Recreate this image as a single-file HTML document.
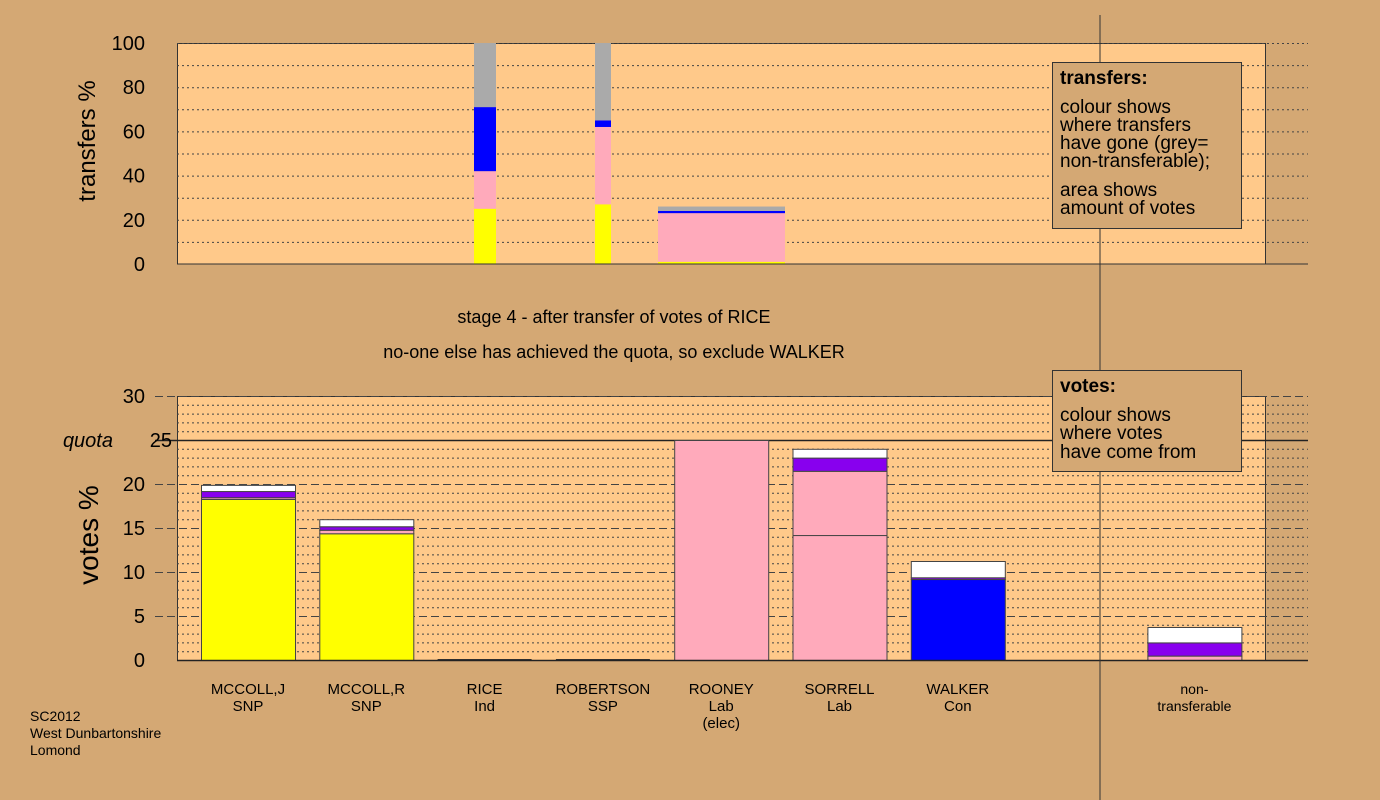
<!DOCTYPE html>
<html><head><meta charset="utf-8"><style>
body{margin:0;background:#D4A874;}
svg{display:block;font-family:"Liberation Sans",sans-serif;}
</style></head><body>
<svg id="c" width="1380" height="800" xmlns="http://www.w3.org/2000/svg">
<rect width="1380" height="800" fill="#D4A874"/>
<g id="top"></g>
<g id="bot"></g>
<text x="614" y="323" font-size="18" text-anchor="middle">stage 4 - after transfer of votes of RICE</text>
<text x="614" y="358" font-size="18" text-anchor="middle">no-one else has achieved the quota, so exclude WALKER</text>
<text x="100" y="160" font-size="24" text-anchor="middle" transform="rotate(-90 88 153)">transfers %</text>
<text x="100" y="553" font-size="28" text-anchor="middle" transform="rotate(-90 90 545)">votes %</text>
<g font-size="14"><text x="30" y="721">SC2012</text><text x="30" y="738">West Dunbartonshire</text><text x="30" y="755">Lomond</text></g>
<line x1="1100" y1="15" x2="1100" y2="800" stroke="#333" stroke-width="1"/>
<g>
<rect x="1052.5" y="62.5" width="189" height="166" fill="#D4A874" stroke="#333"/>
<text x="1060" y="84" font-size="19" font-weight="bold">transfers:</text>
<g font-size="19"><text x="1060" y="113">colour shows</text><text x="1060" y="131">where transfers</text><text x="1060" y="149">have gone (grey=</text><text x="1060" y="167">non-transferable);</text><text x="1060" y="196">area shows</text><text x="1060" y="214">amount of votes</text></g>
</g>
<g id="leg2"></g>
</svg>
<script>
// data
const candidates=["MCCOLL,J","MCCOLL,R","RICE","ROBERTSON","ROONEY","SORRELL","WALKER","","non-transferable"];
const parties=["SNP","SNP","Ind","SSP","Lab","Lab","Con","",""];
const colors=["#FFFF00","#FFAABB","#8800EE","#0000FF","#FFFFFF"];
// vote segments per candidate: [value,colorIndex]
const voteSegs=[
 [[18.3,0],[0.2,1],[0.7,2],[0.7,4]],
 [[14.4,0],[0.4,1],[0.4,2],[0.8,4]],
 [],[],
 [[25.0,1]],
 [[14.2,1],[7.3,1],[1.5,2],[1.0,4]],
 [[9.2,3],[0.2,2],[1.85,4]],
 [],
 [[0.5,1],[1.5,2],[1.75,4]]
];
const voteTicks=[0,5,10,15,20,25,30];
const quota=25;
const transferTicks=[0,20,40,60,80,100];
const transferX=[[474,496],[595,611],[658,785]];
const transferSegs=[
 [[25,"#FFFF00"],[17,"#FFAABB"],[29,"#0000FF"],[29,"#AAAAAA"]],
 [[27,"#FFFF00"],[35,"#FFAABB"],[3,"#0000FF"],[35,"#AAAAAA"]],
 [[1,"#FFFF00"],[22,"#FFAABB"],[1,"#0000FF"],[2,"#AAAAAA"]]
];
const NS="http://www.w3.org/2000/svg";
function mk(p,t,a){const e=document.createElementNS(NS,t);for(const k in a)e.setAttribute(k,a[k]);p.appendChild(e);return e;}
// top chart
const T=document.getElementById('top');
const ty=v=>264-v*2.21;
let r=mk(T,'rect',{x:177.5,y:43.5,width:1088,height:220.5,fill:'#FFC98A',stroke:'#333'});


for(let v=10;v<=100;v+=10){let l=mk(T,'line',{x1:177,x2:1308,y1:ty(v)+.5,y2:ty(v)+.5,stroke:'#444','stroke-dasharray':'2,3','stroke-width':1});

}
transferTicks.forEach(v=>{let t=mk(T,'text',{x:145,y:ty(v)+7,'font-size':20,'text-anchor':'end'});t.textContent=v;

});
transferSegs.forEach((segs,i)=>{let acc=0;segs.forEach(s=>{let b=mk(T,'rect',{x:transferX[i][0],width:transferX[i][1]-transferX[i][0],y:ty(acc+s[0]),height:s[0]*2.21,fill:s[1]});acc+=s[0];

});});
mk(T,'line',{x1:177,x2:1308,y1:264,y2:264,stroke:'#333'});
// bottom chart
const B=document.getElementById('bot');
const by=v=>660-v*8.8;
r=mk(B,'rect',{x:177.5,y:by(30)+.5,width:1088,height:264,fill:'#FFC98A',stroke:'#333'});


for(let v=1;v<=30;v++){let major=v%5==0;let l=mk(B,'line',{x1:major?155:177,x2:1308,y1:by(v)+.5,y2:by(v)+.5,stroke:v==quota?'#222':'#444','stroke-dasharray':v==quota?'none':(major?'8,4':'2,3'),'stroke-width':v==quota?1.5:1});

}
voteTicks.forEach(v=>{let t=mk(B,'text',{x:145,y:by(v)+7,'font-size':20,'text-anchor':'end','font-style':v==quota?'italic':'normal'});t.textContent=v==quota?'quota':v;


if(v==quota){let t2=mk(B,'text',{x:172,y:by(v)+7,'font-size':20,'text-anchor':'end'});t2.textContent='25';t.setAttribute('x',113);}});
candidates.forEach((c,i)=>{
 const x0=201+i*118.3, w=94;
 let acc=0;
 voteSegs[i].forEach(s=>{let b=mk(B,'rect',{x:x0+.5,width:w,y:by(acc+s[0])+.5,height:s[0]*8.8,fill:colors[s[1]],stroke:'#444','stroke-width':1});acc+=s[0];
 
 });
 if(c&&voteSegs[i].length==0){mk(B,'line',{x1:x0,x2:x0+w,y1:659.5,y2:659.5,stroke:'#333'});}
 if(c){let lines=c=='non-transferable'?['non-','transferable']:[c,parties[i]];if(c=='ROONEY')lines.push('(elec)');
 lines.forEach((s,k)=>{let t=mk(B,'text',{x:x0+w/2,y:694+k*17,'font-size':c=='non-transferable'?14:15,'text-anchor':'middle'});t.textContent=s;
 
 });}
});
mk(B,'line',{x1:177,x2:1308,y1:660.5,y2:660.5,stroke:'#222','stroke-width':1.5});
const L=document.getElementById('leg2');
mk(L,'rect',{x:1052.5,y:370.5,width:189,height:101,fill:'#D4A874',stroke:'#333'});
[['votes:',392,'bold'],['colour shows',421],['where votes',439],['have come from',458]].forEach(a=>{let t=mk(L,'text',{x:1060,y:a[1],'font-size':19,'font-weight':a[2]||'normal'});t.textContent=a[0];});
</script>
</body></html>
